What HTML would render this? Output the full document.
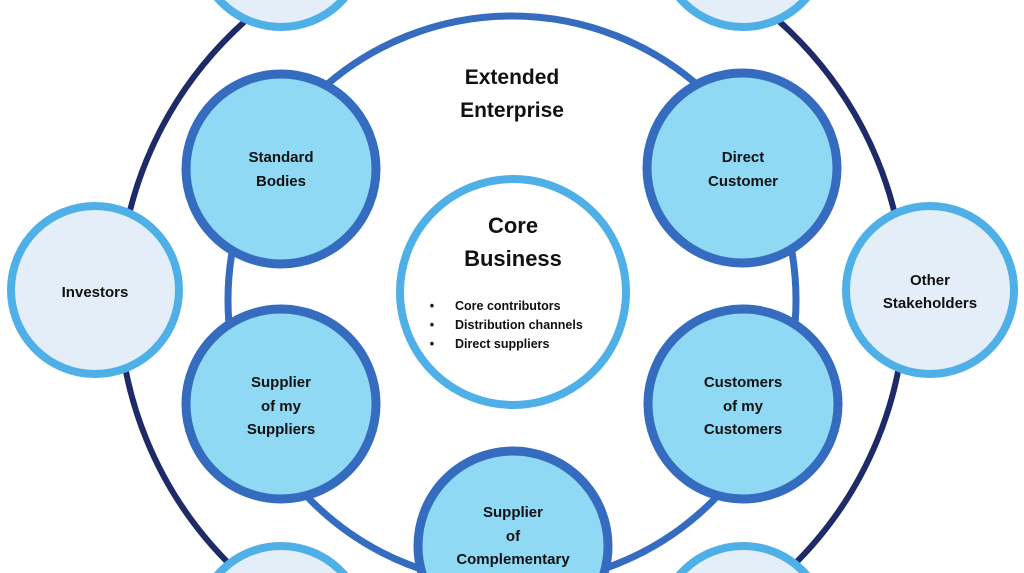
<!DOCTYPE html>
<html><head><meta charset="utf-8"><style>
html,body{margin:0;padding:0;background:#fff;width:1024px;height:573px;overflow:hidden;}
svg{display:block;}
text{font-family:"Liberation Sans",sans-serif;font-weight:bold;fill:#111;text-anchor:middle;}
</style></head><body>
<svg width="1024" height="573" viewBox="0 0 1024 573" xmlns="http://www.w3.org/2000/svg">
<rect width="1024" height="573" fill="#fff"/>
<ellipse cx="512" cy="300" rx="393" ry="380" fill="none" stroke="#1f2a68" stroke-width="6"/>
<circle cx="512" cy="300" r="284" fill="none" stroke="#356cc0" stroke-width="7"/>
<g fill="#e3eef9" stroke="#4eb0e6" stroke-width="8">
<circle cx="95" cy="290" r="84"/>
<circle cx="930" cy="290" r="84"/>
<circle cx="281" cy="-57" r="84"/>
<circle cx="743" cy="-57" r="84"/>
<circle cx="281" cy="630" r="84"/>
<circle cx="743" cy="630" r="84"/>
</g>
<circle cx="513" cy="292" r="113" fill="#fff" stroke="#4eb0e6" stroke-width="8"/>
<g fill="#8fd9f5" stroke="#356cc0" stroke-width="9">
<circle cx="281" cy="169" r="95"/>
<circle cx="742" cy="168" r="95"/>
<circle cx="281" cy="404" r="95"/>
<circle cx="743" cy="404" r="95"/>
<circle cx="513" cy="546" r="95"/>
</g>
<text x="512" y="84" font-size="21">Extended</text>
<text x="512" y="117" font-size="21">Enterprise</text>
<text x="513" y="233" font-size="22">Core</text>
<text x="513" y="266" font-size="22">Business</text>
<g font-size="12.5">
<text x="432" y="310">•</text><text x="432" y="329">•</text><text x="432" y="348">•</text>
<text x="455" y="310" style="text-anchor:start">Core contributors</text>
<text x="455" y="329" style="text-anchor:start">Distribution channels</text>
<text x="455" y="348" style="text-anchor:start">Direct suppliers</text>
</g>
<g font-size="15">
<text x="281" y="162">Standard</text><text x="281" y="186">Bodies</text>
<text x="743" y="162">Direct</text><text x="743" y="186">Customer</text>
<text x="281" y="387">Supplier</text><text x="281" y="411">of my</text><text x="281" y="434">Suppliers</text>
<text x="743" y="387">Customers</text><text x="743" y="411">of my</text><text x="743" y="434">Customers</text>
<text x="513" y="517">Supplier</text><text x="513" y="541">of</text><text x="513" y="564">Complementary</text>
<text x="95" y="297">Investors</text>
<text x="930" y="285">Other</text><text x="930" y="308">Stakeholders</text>
</g>
</svg>
</body></html>
